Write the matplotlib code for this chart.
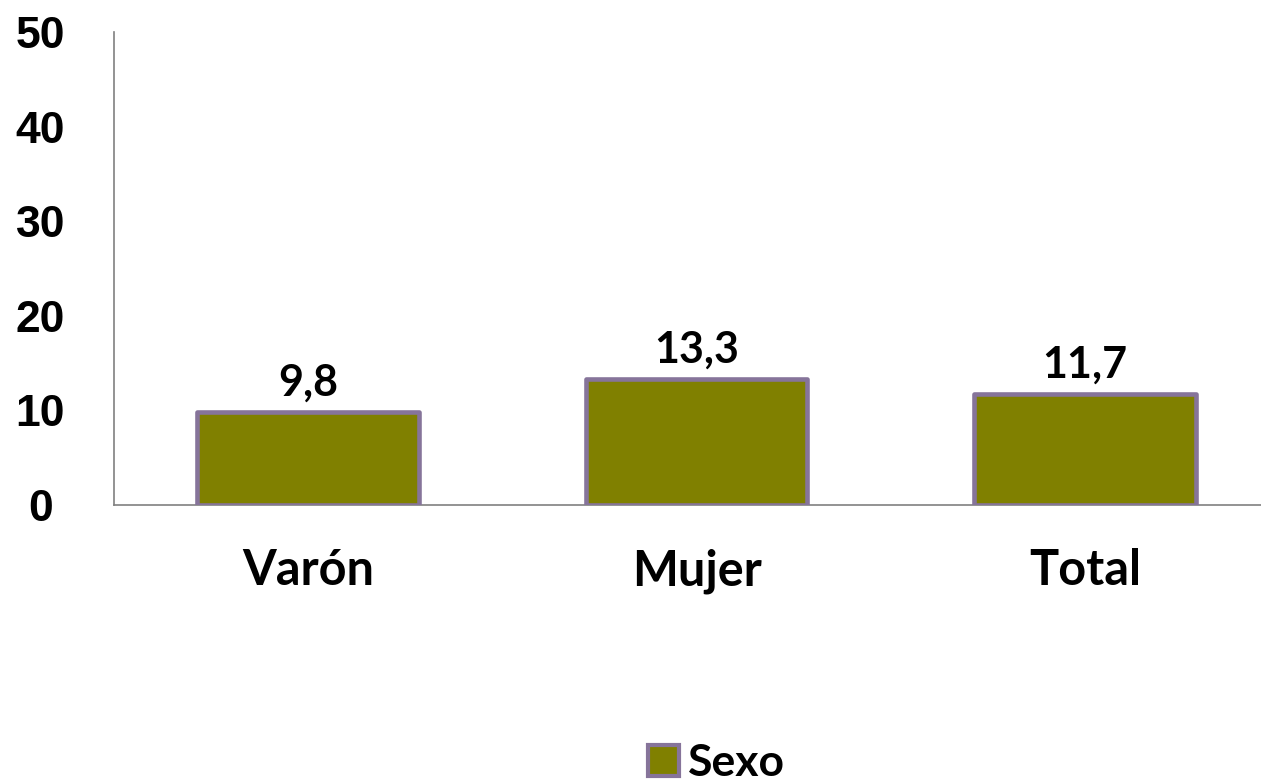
import matplotlib
matplotlib.use('Agg')
import matplotlib.pyplot as plt
import matplotlib.patches as mpatches

#Data
categories = ['Varón', 'Mujer', 'Total']
values = [9.8, 13.3, 11.7]
value_labels = ['9,8', '13,3', '11,7']
yticks = [0, 10, 20, 30, 40, 50]
series_name = 'Sexo'

bar_color = '#808000'
edge_color = '#86749A'
label_font = 'Lato'

fig = plt.figure(figsize=(12.61, 7.83), dpi=100)
ax = fig.add_axes([114 / 1261, 1 - 505 / 783, 1165 / 1261, 473 / 783])

x = range(len(categories))
ax.bar(x, values, width=0.57, color=bar_color, edgecolor=edge_color, linewidth=3.3,
       joinstyle='round', zorder=3)

#Value labels above the bars
for i, (v, lab) in enumerate(zip(values, value_labels)):
    ax.annotate(lab, (i, v), xytext=(0, 7), textcoords='offset points',
                ha='center', va='bottom', fontsize=31, fontweight='bold',
                family=label_font)

ax.set_xlim(-0.5, 2.5)
ax.set_ylim(0, 50)
ax.set_yticks(yticks)
ax.set_yticklabels([str(t) for t in yticks], fontsize=32, fontweight='bold',
                   family='Liberation Sans')
ax.set_xticks(list(x))
ax.set_xticklabels(categories, fontsize=35, fontweight='bold', family=label_font)
ax.tick_params(axis='y', length=0, pad=53)
ax.tick_params(axis='x', length=0, pad=31)
for lab in ax.get_yticklabels():
    lab.set_horizontalalignment('center')

for s in ['top', 'right']:
    ax.spines[s].set_visible(False)
for s in ['left', 'bottom']:
    ax.spines[s].set_color('#808080')
    ax.spines[s].set_linewidth(1.2)

patch = mpatches.Patch(facecolor=bar_color, edgecolor=edge_color, linewidth=3, label=series_name)
fig.legend(handles=[patch], loc='center', bbox_to_anchor=(716 / 1261, 1 - 763 / 783),
           frameon=False, prop={'family': label_font, 'weight': 'bold', 'size': 32},
           handlelength=0.7, handleheight=0.7, handletextpad=0.2)

fig.savefig('out.png', dpi=100)
